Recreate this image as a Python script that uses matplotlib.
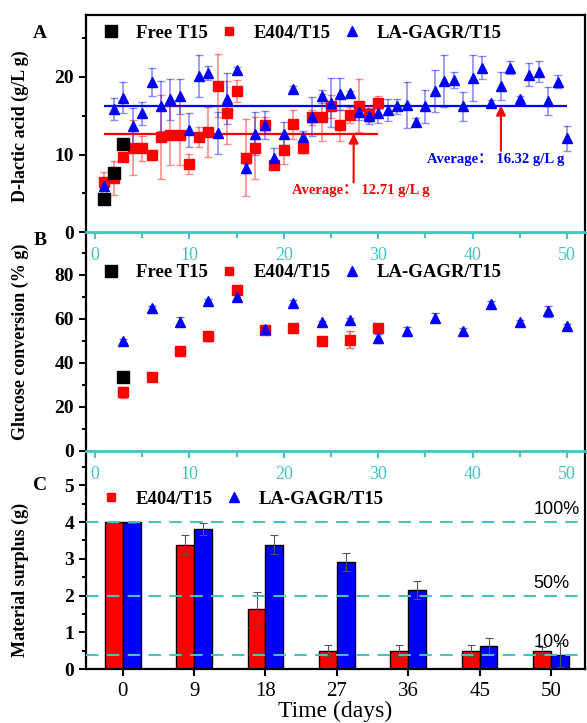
import matplotlib
matplotlib.use("Agg")
import matplotlib.pyplot as plt
from matplotlib.lines import Line2D
from matplotlib.ticker import MultipleLocator

plt.rcParams['font.family'] = ['Liberation Serif', 'Noto Sans CJK SC']
plt.rcParams['mathtext.default'] = 'regular'

teal = '#45c2c2'

# ---- panel A : D-lactic acid per batch ----
free_days = [1, 2, 3]
free_la = [4.3, 7.6, 11.3]
free_la_err = [0.2, 0.3, 0.6]

e404_days = list(range(1, 31))
e404_la = [6.5, 7.0, 9.7, 10.9, 10.8, 10.0, 12.3, 12.5, 12.5, 8.8,
           12.3, 12.9, 18.9, 15.4, 18.2, 9.6, 10.9, 13.8, 8.6, 10.6,
           13.9, 10.9, 14.8, 14.8, 16.2, 13.8, 15.1, 16.3, 15.2, 16.7]
e404_la_err = [1.2, 2.2, 0.5, 3.5, 1.6, 0.5, 5.4, 3.8, 3.8, 1.3,
               1.3, 3.2, 4.1, 4.1, 1.4, 5.0, 4.0, 1.0, 0.4, 1.8,
               1.9, 0.7, 1.0, 3.0, 1.5, 2.0, 1.0, 3.4, 1.0, 0.8]

gagr_days = list(range(1, 51))
gagr_la = [6.0, 15.9, 17.3, 13.7, 15.3, 19.4, 16.3, 17.1, 17.5, 13.2,
           20.1, 20.5, 12.8, 17.2, 20.9, 8.2, 12.7, 13.8, 9.5, 12.7,
           18.5, 12.3, 14.9, 17.5, 16.7, 17.8, 17.9, 15.5, 15.0, 15.4,
           15.7, 16.2, 16.4, 14.2, 16.2, 18.2, 19.5, 19.6, 16.2, 19.9,
           21.2, 16.7, 18.8, 21.2, 17.2, 20.3, 20.7, 16.9, 19.4, 12.1]
gagr_la_err = [0.5, 1.4, 2.0, 2.3, 1.5, 1.8, 3.2, 2.7, 2.3, 2.2,
               2.7, 0.9, 2.7, 3.3, 0.4, 0.6, 2.8, 1.8, 1.3, 1.5,
               0.3, 0.8, 2.5, 0.8, 3.2, 2.1, 0.3, 1.0, 1.0, 1.3,
               1.4, 1.0, 3.0, 0.5, 2.1, 2.7, 3.4, 1.0, 1.9, 3.0,
               1.5, 0.3, 1.8, 0.8, 0.3, 1.5, 1.3, 1.8, 0.8, 1.6]

e404_avg = 12.71
gagr_avg = 16.32

# ---- panel B : glucose conversion ----
free_b_days = [3]
free_conv = [33.6]
free_conv_err = [2.0]

e404_b_days = [3, 6, 9, 12, 15, 18, 21, 24, 27, 30]
e404_conv = [26.5, 33.6, 45.5, 52.1, 72.9, 54.7, 55.8, 49.9, 50.5, 55.9]
e404_conv_err = [2.5, 1.0, 1.5, 2.0, 1.0, 1.0, 1.5, 1.5, 4.0, 1.0]

gagr_b_days = [3, 6, 9, 12, 15, 18, 21, 24, 27, 30, 33, 36, 39, 42, 45, 48, 50]
gagr_conv = [49.9, 64.7, 58.6, 68.0, 69.7, 55.3, 67.0, 58.4, 59.4, 51.1,
             54.4, 60.5, 54.4, 66.7, 58.6, 63.5, 56.5]
gagr_conv_err = [0.8, 1.0, 2.0, 1.0, 1.0, 1.2, 1.5, 0.8, 1.0, 2.0,
                 2.0, 2.0, 1.5, 1.5, 0.8, 2.5, 1.0]

# ---- panel C : material surplus ----
c_labels = ['0', '9', '18', '27', '36', '45', '50']
e404_mass = [4.0, 3.39, 1.63, 0.51, 0.51, 0.51, 0.51]
e404_mass_err = [0.02, 0.27, 0.47, 0.16, 0.16, 0.16, 0.10]
gagr_mass = [4.0, 3.82, 3.39, 2.92, 2.16, 0.63, 0.38]
gagr_mass_err = [0.02, 0.16, 0.25, 0.25, 0.25, 0.22, 0.33]

ref_levels = [4.0, 2.0, 0.4]
ref_labels = ['100%', '50%', '10%']


fig = plt.figure(figsize=(5.87, 7.23), dpi=100)
L, W = 0.1465, 0.850
axA = fig.add_axes([L, 0.679, W, 0.3003])
axB = fig.add_axes([L, 0.3766, W, 0.3024])
axC = fig.add_axes([L, 0.0743, W, 0.3023])
axA.set_zorder(3)
axB.set_zorder(2)
axC.set_zorder(1)
for ax in (axA, axB, axC):
    ax.patch.set_alpha(0)
    for s in ax.spines.values():
        s.set_linewidth(1.6)

lbl_font = dict(fontsize=13, fontweight='bold')
leg_prop = dict(size=13.5, weight='bold')
leg_kw = dict(loc='center left', frameon=False, borderaxespad=0, borderpad=0,
              handlelength=1.2, handletextpad=0.7, columnspacing=0.55,
              prop=leg_prop)

# legend proxies (markers only, as in the figure)
h_free = Line2D([], [], ls='none', marker='s', color='black', ms=8)
h_e404 = Line2D([], [], ls='none', marker='s', color='red', ms=6)
h_gagr = Line2D([], [], ls='none', marker='^', color='blue', ms=7)


def day_axis(ax):
    # teal day axis at the bottom of A and B
    ax.set_xlim(-0.95, 51.9)
    ax.spines['bottom'].set_color(teal)
    ax.spines['bottom'].set_linewidth(2)
    ax.xaxis.set_major_locator(MultipleLocator(10))
    ax.xaxis.set_minor_locator(MultipleLocator(5))
    ax.tick_params(axis='x', which='both', colors=teal, direction='out',
                   labelsize=13, width=1.5, pad=6)
    ax.tick_params(axis='x', which='major', length=5)
    ax.tick_params(axis='x', which='minor', length=4)


def left_axis(ax):
    ax.tick_params(axis='y', which='both', direction='out', width=1.4,
                   labelsize=14)
    ax.tick_params(axis='y', which='major', length=5)
    ax.tick_params(axis='y', which='minor', length=3)
    for t in ax.get_yticklabels():
        t.set_fontweight('bold')


# ----- A -----
axA.errorbar(free_days, free_la, yerr=free_la_err, fmt='s', color='black',
             ms=9, capsize=2, elinewidth=1, zorder=5)
axA.errorbar(e404_days, e404_la, yerr=e404_la_err, fmt='s', color='red',
             ms=6.5, ecolor=(1, 0, 0, 0.45), capsize=3, elinewidth=1.2,
             zorder=4)
axA.errorbar(gagr_days, gagr_la, yerr=gagr_la_err, fmt='^', color='blue',
             ms=7.5, ecolor=(0, 0, 1, 0.45), capsize=3, elinewidth=1.2,
             zorder=4)
axA.hlines(e404_avg, e404_days[0], e404_days[-1], color='red', lw=1.6, zorder=3)
axA.hlines(gagr_avg, gagr_days[0], gagr_days[-1], color='blue', lw=1.6, zorder=3)
axA.annotate('', xy=(27.4, e404_avg), xytext=(27.4, 6.4),
             arrowprops=dict(arrowstyle='-|>', color='red', lw=1.5,
                             mutation_scale=14, shrinkA=0, shrinkB=0))
axA.annotate('', xy=(43.0, gagr_avg), xytext=(43.0, 10.5),
             arrowprops=dict(arrowstyle='-|>', color='red', lw=1.5,
                             mutation_scale=14, shrinkA=0, shrinkB=0))
axA.text(20.9, 5.4, 'Average\uff1a 12.71 g/L g', color='red', fontsize=10.5,
         fontweight='bold', va='center', ha='left')
axA.text(35.2, 9.3, 'Average\uff1a 16.32 g/L g', color='blue', fontsize=10.5,
         fontweight='bold', va='center', ha='left')
axA.set_ylim(0, 28)
axA.yaxis.set_major_locator(MultipleLocator(10))
axA.yaxis.set_minor_locator(MultipleLocator(5))
day_axis(axA)
left_axis(axA)
axA.set_ylabel('D-lactic acid (g/L g)', **lbl_font)
axA.yaxis.set_label_coords(-0.115, 0.49)
axA.legend([h_free, h_e404, h_gagr], ['Free T15', 'E404/T15', 'LA-GAGR/T15'],
           bbox_to_anchor=(0.028, 0.917), ncol=3, **leg_kw)

# ----- B -----
axB.errorbar(free_b_days, free_conv, yerr=free_conv_err, fmt='s',
             color='black', ms=9, capsize=2, elinewidth=1, zorder=5)
axB.errorbar(e404_b_days, e404_conv, yerr=e404_conv_err, fmt='s',
             color='red', ms=6.5, ecolor=(1, 0, 0, 0.6), capsize=3,
             elinewidth=1.2, zorder=4)
axB.errorbar(gagr_b_days, gagr_conv, yerr=gagr_conv_err, fmt='^',
             color='blue', ms=7.5, ecolor=(0, 0, 1, 0.6), capsize=3,
             elinewidth=1.2, zorder=4)
axB.set_ylim(0, 99.4)
axB.set_yticks([0, 20, 40, 60, 80])
axB.yaxis.set_minor_locator(MultipleLocator(10))
axB.spines['top'].set_visible(False)
day_axis(axB)
left_axis(axB)
axB.set_ylabel('Glucose conversion (% g)', **lbl_font)
axB.yaxis.set_label_coords(-0.115, 0.5)
axB.legend([h_free, h_e404, h_gagr], ['Free T15', 'E404/T15', 'LA-GAGR/T15'],
           bbox_to_anchor=(0.028, 0.815), ncol=3, **leg_kw)

# ----- C -----
pos = list(range(len(c_labels)))
bw = 0.25
axC.bar([p - bw / 2 for p in pos], e404_mass, bw, yerr=e404_mass_err,
        color='red', edgecolor='black', linewidth=1, capsize=3,
        error_kw=dict(ecolor='#555555', elinewidth=0.8, capthick=0.8),
        zorder=2)
axC.bar([p + bw / 2 for p in pos], gagr_mass, bw, yerr=gagr_mass_err,
        color='blue', edgecolor='black', linewidth=1, capsize=3,
        error_kw=dict(ecolor='#555555', elinewidth=0.8, capthick=0.8),
        zorder=2)
for lv, lt in zip(ref_levels, ref_labels):
    axC.axhline(lv, color=teal, lw=1.5, dashes=(6, 4), zorder=3)
    axC.text(5.75, lv + 0.1, lt, family='Liberation Sans', fontsize=13,
             ha='left', va='bottom')
axC.set_xlim(-0.514, 6.475)
axC.set_ylim(0, 5.94)
axC.set_xticks(pos)
axC.set_xticklabels(c_labels)
axC.yaxis.set_major_locator(MultipleLocator(1))
axC.yaxis.set_minor_locator(MultipleLocator(0.5))
axC.spines['top'].set_visible(False)
axC.tick_params(axis='x', direction='out', length=5, width=1.5,
                labelsize=15, pad=4)
left_axis(axC)
axC.set_ylabel('Material surplus (g)', **lbl_font)
axC.yaxis.set_label_coords(-0.115, 0.41)
axC.set_xlabel('Time (days)', fontsize=17, labelpad=0)
axC.legend([h_e404, h_gagr], ['E404/T15', 'LA-GAGR/T15'],
           bbox_to_anchor=(0.028, 0.779), ncol=2, **leg_kw)

# panel letters
for lt, yy in (('A', 0.953), ('B', 0.668), ('C', 0.329)):
    fig.text(0.068, yy, lt, fontsize=14, fontweight='bold', ha='center',
             va='center')

fig.savefig('out.png', dpi=100, facecolor='white')
